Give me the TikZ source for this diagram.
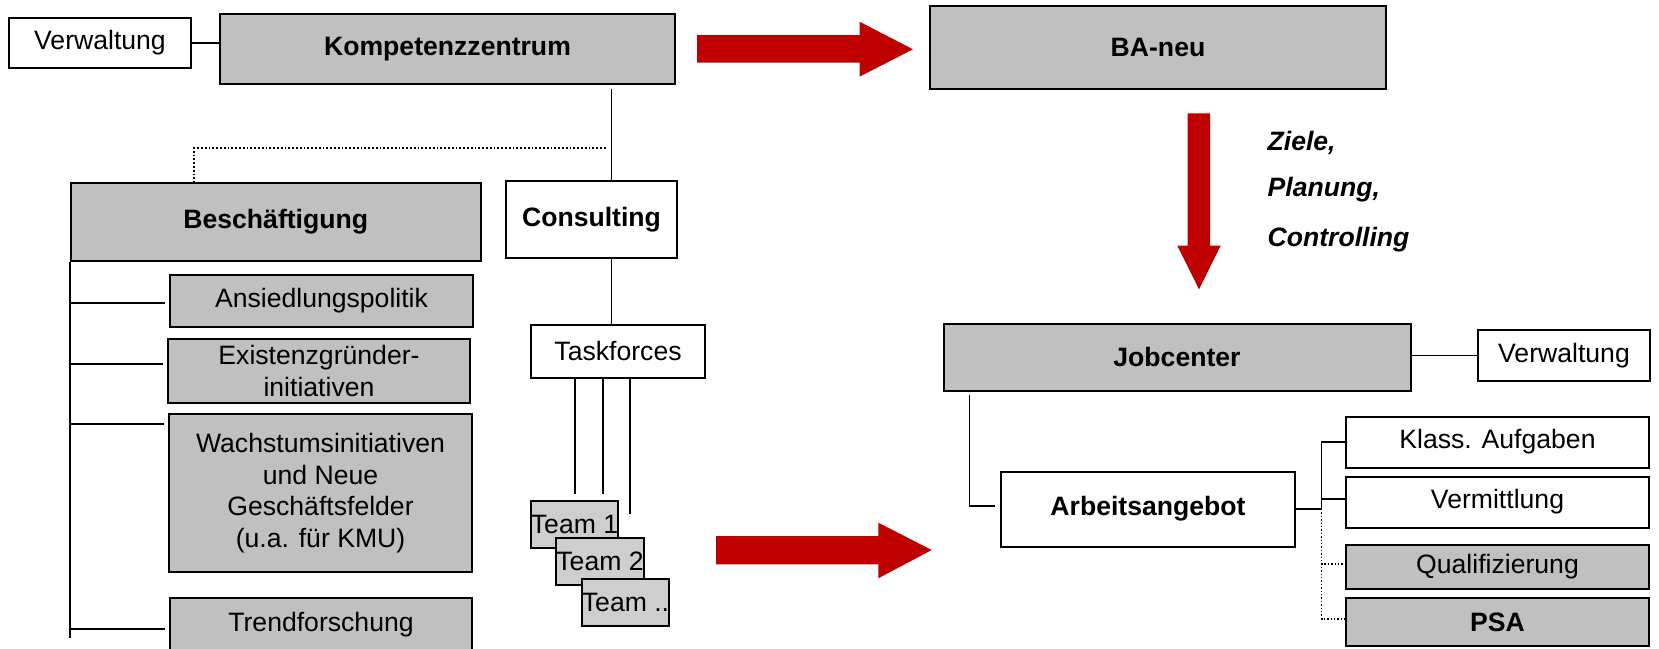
\documentclass[tikz,border=0pt]{standalone}
\usepackage{fontspec}
\setmainfont{Liberation Sans}
\usetikzlibrary{positioning}

\definecolor{boxgrey}{RGB}{192,192,192}
\definecolor{teamgrey}{RGB}{206,206,206}
\definecolor{arrowred}{RGB}{190,0,0}

\begin{document}
\begin{tikzpicture}[x=0.5pt,y=-0.5pt,line width=0.9pt,
  unit/.style={draw,line width=1pt,inner sep=0pt,align=center,
    font=\fontsize{13.3}{15.85}\selectfont},
  grey unit/.style={unit,fill=boxgrey},
  head/.style={font=\fontsize{13.3}{15.85}\selectfont\bfseries},
  team/.style={unit,fill=teamgrey,minimum width=43.5pt,minimum height=23.5pt,
    font=\fontsize{13.3}{15}\selectfont},
  note/.style={anchor=base west,inner sep=0pt,
    font=\fontsize{13.3}{15.85}\selectfont\bfseries\itshape}]
  \useasboundingbox (0,0) rectangle (1659,648);

  % left side
  \node[unit,minimum width=91pt,minimum height=25pt] (verw_l) at (100,43) {Verwaltung};
  \node[grey unit,head,minimum width=227.5pt,minimum height=35pt] (komp) at (447.5,49) {Kompetenzzentrum};
  \node[grey unit,head,minimum width=205pt,minimum height=39pt] (besch) at (275.75,222) {Besch\"aftigung};
  \node[unit,head,minimum width=85.5pt,minimum height=38.5pt] (consult) at (591.5,219.5) {Consulting};
  \node[grey unit,minimum width=151.5pt,minimum height=26pt] (ansied) at (321.5,301) {Ansiedlungspolitik};
  \node[grey unit,minimum width=151pt,minimum height=32pt] (exist) at (319,371) {Existenzgr\"under-\\initiativen};
  \node[grey unit,minimum width=151.5pt,minimum height=79pt] (wachs) at (320.5,493) {Wachstumsinitiativen\\und Neue\\Gesch\"aftsfelder\\(u.a. f\"ur KMU)};
  \node[grey unit,minimum width=151pt,minimum height=27pt] (trend) at (321,625) {Trendforschung};
  \node[unit,minimum width=87pt,minimum height=26.5pt] (taskf) at (618,351.4) {Taskforces};
  \node[team] (team_1) at (574.5,524) {Team 1};
  \node[team] (team_2) at (600,561.5) {Team 2};
  \node[team] (team_3) at (625.5,602.5) {Team ..};

  % right side
  \node[grey unit,head,minimum width=228pt,minimum height=41.5pt] (ba_neu) at (1158,47.5) {BA-neu};
  \node[grey unit,head,minimum width=233.5pt,minimum height=33.5pt] (jobc) at (1177,357) {Jobcenter};
  \node[unit,minimum width=86pt,minimum height=25.5pt] (verw_r) at (1564,355.5) {Verwaltung};
  \node[unit,head,minimum width=147pt,minimum height=37.5pt] (arbeit) at (1148,509) {Arbeitsangebot};
  \node[unit,minimum width=151.5pt,minimum height=25.5pt] (klass) at (1497.5,442) {Klass. Aufgaben};
  \node[unit,minimum width=151.5pt,minimum height=25.5pt] (vermit) at (1497.5,502) {Vermittlung};
  \node[grey unit,minimum width=151.5pt,minimum height=22pt] (quali) at (1497.5,567) {Qualifizierung};
  \node[grey unit,head,minimum width=151.5pt,minimum height=24pt] (psa) at (1497.5,622) {PSA};

  \node[note] (ziele) at (1266.7,150) {Ziele,};
  \node[note] (planung) at (1266.7,196.7) {Planung,};
  \node[note] (controlling) at (1266.7,246) {Controlling};

  % connectors
  \draw (verw_l.east) -- (komp.west |- verw_l.east);
  \draw ([shift={(164,4)}]komp.south) -- ([shift={(20,0)}]consult.north);
  \draw[densely dotted] ([shift={(158,63)}]komp.south) -| ([shift={(-81.75,0)}]besch.north);
  \draw ([shift={(20,0)}]consult.south) -- ([shift={(-6.5,0)}]taskf.north);

  \draw (besch.south west) -- ++(0,376);
  \draw (besch.south west) |- ([shift={(-4,2)}]ansied.west);
  \draw (besch.south west) |- ([shift={(-4,-7)}]exist.west);
  \draw (besch.south west) |- ([shift={(-4,-69)}]wachs.west);
  \draw (besch.south west) |- ([shift={(-4,4)}]trend.west);

  \draw[line width=0.7pt] ([shift={(45,0)}]taskf.south west) -- ++(0,115);
  \draw[line width=0.7pt] ([shift={(73,0)}]taskf.south west) -- ++(0,115);
  \draw[line width=0.7pt] ([shift={(100,0)}]taskf.south west) -- ++(0,135);

  \draw (verw_r.west) -- (verw_r.west -| jobc.east);
  \draw ([shift={(27,3)}]jobc.south west) |- ([shift={(-5,-3)}]arbeit.west);
  \draw (arbeit.east) -- ++(25.5,0) coordinate (a_j);
  \draw (a_j) |- (klass.west);
  \draw (a_j) |- ([yshift=1.5pt]vermit.west);
  \draw[densely dotted,line width=0.7pt] (a_j) |- ([yshift=1.5pt]quali.west);
  \draw[densely dotted,line width=0.7pt] (a_j) |- ([yshift=1.5pt]psa.west);

  % red arrows
  \fill[arrowred] (697,35) -- (859.5,35) -- (859.5,21.7) -- (913,49.3)
    -- (859.5,76.7) -- (859.5,62.7) -- (697,62.7) -- cycle;
  \fill[arrowred] (1187.7,113.3) -- (1210,113.3) -- (1210,245.7) -- (1220.7,245.7)
    -- (1199,289.3) -- (1177.3,245.7) -- (1187.7,245.7) -- cycle;
  \fill[arrowred] (716,536) -- (878.3,536) -- (878.3,522.7) -- (931.7,550)
    -- (878.3,578.3) -- (878.3,564.3) -- (716,564.3) -- cycle;
\end{tikzpicture}
\end{document}
